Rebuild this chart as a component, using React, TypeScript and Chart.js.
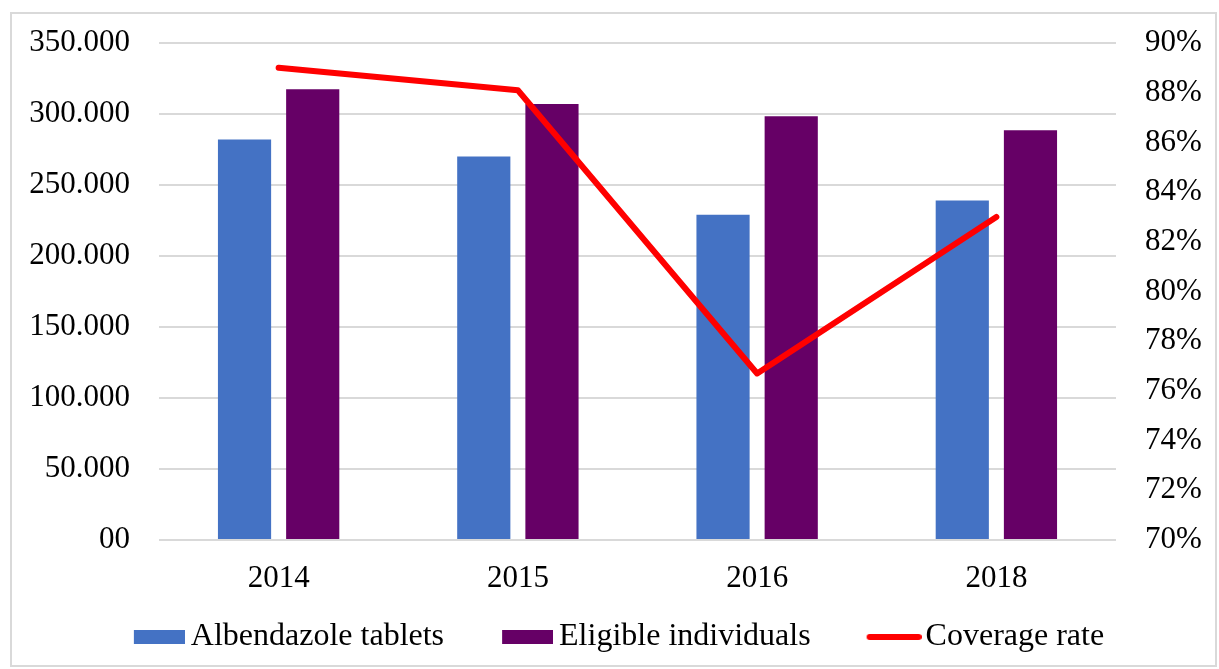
import React, { useEffect, useRef } from "react";
import { Chart, registerables } from "chart.js";

Chart.register(...registerables);

const categories = ["2014", "2015", "2016", "2018"];
const albendazoleTablets = [282000, 270000, 229000, 239000];
const eligibleIndividuals = [317500, 307000, 298500, 288500];
const coverageRate = [89.0, 88.1, 76.7, 83.0];

const FONT = "'Times New Roman', 'Liberation Serif', serif";
const BLUE = "#4472c4";
const PURPLE = "#660066";
const RED = "#ff0000";

// Places the legend row independently of its layout reservation
const legendPlacer = {
  id: "legendPlacer",
  afterLayout(chart: any) {
    const lg = chart.legend;
    if (!lg) return;
    const h = 89;
    lg.top = 560;
    lg.bottom = 560 + h;
    lg.height = h;
  },
};

function boxSwatch(color: string) {
  const c = document.createElement("canvas");
  c.width = 72;
  c.height = 14;
  const ctx = c.getContext("2d")!;
  ctx.fillStyle = color;
  ctx.fillRect(21, 0, 51, 14);
  return c;
}

function lineSwatch(color: string) {
  const c = document.createElement("canvas");
  c.width = 76;
  c.height = 8;
  const ctx = c.getContext("2d")!;
  ctx.strokeStyle = color;
  ctx.lineWidth = 6;
  ctx.lineCap = "round";
  ctx.beginPath();
  ctx.moveTo(24, 4);
  ctx.lineTo(73, 4);
  ctx.stroke();
  return c;
}

export default function App() {
  const ref = useRef<HTMLCanvasElement>(null);
  useEffect(() => {
    if (!ref.current) return;
    const chart = new Chart(ref.current, {
      type: "bar",
      plugins: [legendPlacer],
      data: {
        labels: categories,
        datasets: [
          {
            type: "bar",
            label: "Albendazole tablets",
            data: albendazoleTablets,
            backgroundColor: BLUE,
            borderWidth: 0,
            yAxisID: "y",
            order: 1,
            pointStyle: boxSwatch(BLUE),
            categoryPercentage: 0.57,
            barPercentage: 0.78,
          } as any,
          {
            type: "bar",
            label: "Eligible individuals",
            data: eligibleIndividuals,
            backgroundColor: PURPLE,
            borderWidth: 0,
            yAxisID: "y",
            order: 1,
            pointStyle: boxSwatch(PURPLE),
            categoryPercentage: 0.57,
            barPercentage: 0.78,
          } as any,
          {
            type: "line",
            label: "Coverage rate",
            data: coverageRate,
            borderColor: RED,
            backgroundColor: RED,
            borderWidth: 6,
            borderCapStyle: "round",
            borderJoinStyle: "round",
            pointRadius: 0,
            pointStyle: lineSwatch(RED),
            yAxisID: "y1",
            order: 0,
            tension: 0,
          } as any,
        ],
      },
      options: {
        animation: false,
        responsive: false,
        maintainAspectRatio: false,
        layout: { padding: { top: 29, left: 0, right: 0, bottom: 2 } },
        plugins: {
          tooltip: { enabled: false },
          legend: {
            position: "bottom",
            maxHeight: 70,
            labels: {
              usePointStyle: true,
              pointStyleWidth: 52,
              boxHeight: 18,
              padding: 47,
              color: "#000",
              font: { family: FONT, size: 32 },
              sort: (a: any, b: any) => a.datasetIndex - b.datasetIndex,
            },
          },
        },
        scales: {
          x: {
            grid: { display: false },
            border: { display: false },
            afterFit: (s: any) => {
              s.height = 53;
            },
            ticks: { color: "#000", font: { family: FONT, size: 31 }, padding: 12 },
          },
          y: {
            position: "left",
            min: 0,
            max: 350000,
            afterFit: (s: any) => {
              s.width = 147;
              s.paddingTop = 0;
              s.paddingBottom = 0;
            },
            ticks: {
              stepSize: 50000,
              padding: 29,
              color: "#000",
              font: { family: FONT, size: 31 },
              callback: (v: any) => (v === 0 ? "00" : String(Math.round(v / 1000)) + ".000"),
            },
            grid: { color: "#d9d9d9", lineWidth: 2, drawTicks: false },
            border: { display: false },
          },
          y1: {
            position: "right",
            min: 70,
            max: 90,
            afterFit: (s: any) => {
              s.width = 99;
              s.paddingTop = 0;
              s.paddingBottom = 0;
            },
            ticks: {
              stepSize: 2,
              padding: 29,
              color: "#000",
              font: { family: FONT, size: 31 },
              callback: (v: any) => Math.round(v) + "%",
            },
            grid: { display: false, drawTicks: false },
            border: { display: false },
          },
        },
      },
    });
    return () => chart.destroy();
  }, []);

  return (
    <div
      style={{
        position: "absolute",
        left: 10,
        top: 12,
        width: 1207,
        height: 655,
        border: "2px solid #d9d9d9",
        boxSizing: "border-box",
        background: "#fff",
      }}
    >
      <canvas ref={ref} width={1203} height={651} style={{ display: "block" }} />
    </div>
  );
}
